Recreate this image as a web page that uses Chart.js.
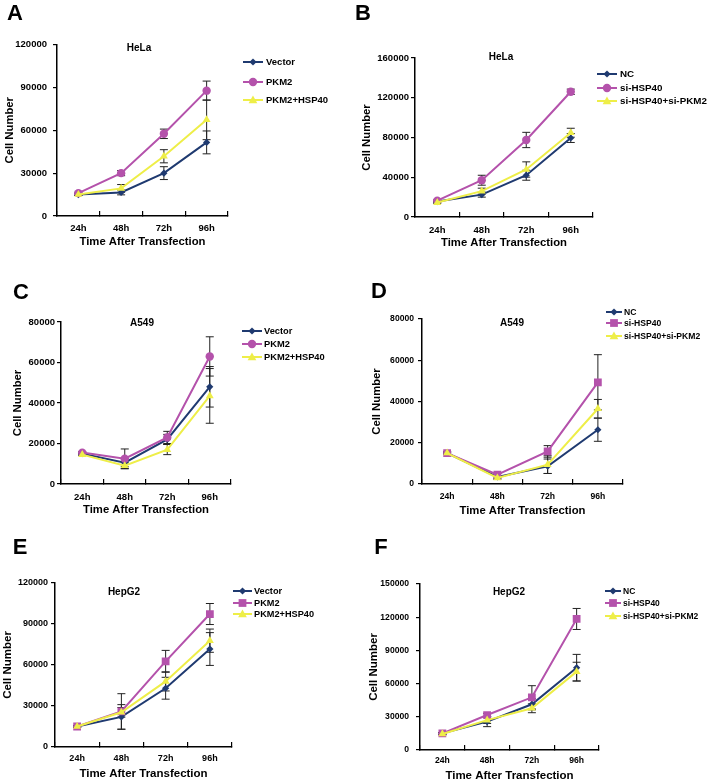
<!DOCTYPE html>
<html>
<head>
<meta charset="utf-8">
<script src="https://cdn.jsdelivr.net/npm/chart.js@4.4.1/dist/chart.umd.min.js"></script>
<style>
  body { margin: 0; background: #fff; width: 708px; height: 782px; position: relative; overflow: hidden; }
  canvas { position: absolute; }
</style>
</head>
<body>
<canvas id="cA" width="354" height="260" style="left:0;top:0"></canvas>
<canvas id="cB" width="354" height="260" style="left:354px;top:0"></canvas>
<canvas id="cC" width="354" height="260" style="left:0;top:260px"></canvas>
<canvas id="cD" width="354" height="260" style="left:354px;top:260px"></canvas>
<canvas id="cE" width="354" height="262" style="left:0;top:520px"></canvas>
<canvas id="cF" width="354" height="262" style="left:354px;top:520px"></canvas>
<script>
const timeLabels = ["24h", "48h", "72h", "96h"];
const overNames = ["Vector", "PKM2", "PKM2+HSP40"];
const knockNames = ["NC", "si-HSP40", "si-HSP40+si-PKM2"];

// A - HeLa, overexpression
const aVector = [15000, 16500, 30000, 51500];
const aVectorErr = [600, 1700, 4500, 8000];
const aPkm2 = [16000, 30000, 57500, 87700];
const aPkm2Err = [600, 1800, 3300, 6700];
const aCombo = [15000, 19300, 41800, 67300];
const aComboErr = [600, 2700, 4600, 13900];

// B - HeLa, knockdown
const bNC = [15500, 22500, 42000, 79500];
const bNCErr = [800, 2500, 5000, 4500];
const bSiHsp = [16500, 37000, 77500, 126000];
const bSiHspErr = [800, 5000, 7700, 2700];
const bCombo = [14500, 26000, 47800, 84800];
const bComboErr = [800, 3000, 7700, 4500];

// C - A549, overexpression
const cVector = [15000, 10500, 22000, 48000];
const cVectorErr = [500, 2000, 2500, 10000];
const cPkm2 = [15500, 12500, 23000, 63000];
const cPkm2Err = [500, 4800, 3000, 9700];
const cCombo = [14500, 9000, 17000, 43500];
const cComboErr = [500, 1500, 2500, 13500];

// D - A549, knockdown
const dNC = [15000, 3400, 8600, 26300];
const dNCErr = [500, 600, 3500, 5600];
const dSiHsp = [15000, 4500, 15800, 49300];
const dSiHspErr = [500, 600, 2800, 13400];
const dCombo = [15000, 2900, 9400, 36500];
const dComboErr = [500, 600, 4300, 4500];

// E - HepG2, overexpression
const eVector = [15000, 22000, 43000, 71700];
const eVectorErr = [600, 9000, 8000, 12000];
const ePkm2 = [15000, 26000, 62700, 97300];
const ePkm2Err = [600, 13000, 8000, 7700];
const eCombo = [15000, 25400, 48000, 77800];
const eComboErr = [600, 3500, 7000, 8500];

// F - HepG2, knockdown
const fNC = [15000, 25600, 41300, 74400];
const fNCErr = [800, 4500, 5000, 12000];
const fSiHsp = [15000, 31600, 47600, 118400];
const fSiHspErr = [800, 1500, 10500, 9500];
const fCombo = [14500, 27000, 37700, 70800];
const fComboErr = [800, 3000, 4000, 8500];

const NAVY = "#1f3a70";
const PINK = "#b452ab";
const YELLOW = "#eeee48";
const FONT = "'Liberation Sans', Arial, sans-serif";

const panels = [
  { id: "cA", letter: "A", cell: "HeLa", names: overNames, mid: "circle",
    series: [aVector, aPkm2, aCombo], errs: [aVectorErr, aPkm2Err, aComboErr],
    max: 120000, step: 30000,
    box: { l: 57, t: 44.5, r: 228, b: 216 }, letterAt: [15, 14], titleAt: [139, 48],
    xLabY: 228, xTitleY: 242, yTitleX: 10, yGap: 10, tickSize: 9.5, titleSize: 11.3,
    legend: { x0: 243, x1: 263, tx: 266, rows: [62, 82, 100], size: 9.5 } },
  { id: "cB", letter: "B", cell: "HeLa", names: knockNames, mid: "circle",
    series: [bNC, bSiHsp, bCombo], errs: [bNCErr, bSiHspErr, bComboErr],
    max: 160000, step: 40000,
    box: { l: 61, t: 58, r: 239, b: 217 }, letterAt: [9, 14], titleAt: [147, 57],
    xLabY: 230, xTitleY: 243, yTitleX: 12.5, yGap: 6, tickSize: 9.5, titleSize: 11.3,
    legend: { x0: 243, x1: 263, tx: 266, rows: [74, 88, 101], size: 9.8 } },
  { id: "cC", letter: "C", cell: "A549", names: overNames, mid: "circle",
    series: [cVector, cPkm2, cCombo], errs: [cVectorErr, cPkm2Err, cComboErr],
    max: 80000, step: 20000,
    box: { l: 61, t: 62, r: 231, b: 224 }, letterAt: [21, 33], titleAt: [142, 63],
    xLabY: 237, xTitleY: 250, yTitleX: 18, yGap: 6, tickSize: 9.5, titleSize: 11.3,
    legend: { x0: 242, x1: 262, tx: 264, rows: [71, 84, 97], size: 9.3 } },
  { id: "cD", letter: "D", cell: "A549", names: knockNames, mid: "rect",
    series: [dNC, dSiHsp, dCombo], errs: [dNCErr, dSiHspErr, dComboErr],
    max: 80000, step: 20000,
    box: { l: 68, t: 59, r: 269, b: 224 }, letterAt: [25, 32], titleAt: [158, 63],
    xLabY: 237, xTitleY: 251, yTitleX: 23, yGap: 8, tickSize: 8.6, titleSize: 11.3,
    legend: { x0: 252, x1: 268, tx: 270, rows: [52, 63, 76], size: 8.6 } },
  { id: "cE", letter: "E", cell: "HepG2", names: overNames, mid: "rect",
    series: [eVector, ePkm2, eCombo], errs: [eVectorErr, ePkm2Err, eComboErr],
    max: 120000, step: 30000,
    box: { l: 55, t: 63, r: 232, b: 227 }, letterAt: [20, 28], titleAt: [124, 72],
    xLabY: 239, xTitleY: 254, yTitleX: 8, yGap: 7, tickSize: 9, titleSize: 11.5,
    legend: { x0: 233, x1: 252, tx: 254, rows: [71, 83, 94], size: 9.2 } },
  { id: "cF", letter: "F", cell: "HepG2", names: knockNames, mid: "rect",
    series: [fNC, fSiHsp, fCombo], errs: [fNCErr, fSiHspErr, fComboErr],
    max: 150000, step: 30000,
    box: { l: 66, t: 64, r: 245, b: 230 }, letterAt: [27, 28], titleAt: [155, 72],
    xLabY: 241, xTitleY: 256, yTitleX: 20, yGap: 11, tickSize: 8.6, titleSize: 11.5,
    legend: { x0: 251, x1: 267, tx: 269, rows: [71, 83, 96], size: 8.5 } }
];

function marker(ctx, style, x, y, r, color) {
  ctx.save();
  ctx.fillStyle = color;
  ctx.beginPath();
  if (style === "circle") {
    ctx.arc(x, y, r, 0, Math.PI * 2);
  } else if (style === "rect") {
    const s = r * Math.SQRT1_2;
    ctx.rect(x - s, y - s, 2 * s, 2 * s);
  } else if (style === "rectRot") {
    ctx.moveTo(x - r, y); ctx.lineTo(x, y - r); ctx.lineTo(x + r, y); ctx.lineTo(x, y + r);
  } else {
    ctx.moveTo(x, y - r); ctx.lineTo(x + r * 0.95, y + r * 0.7); ctx.lineTo(x - r * 0.95, y + r * 0.7);
  }
  ctx.closePath();
  ctx.fill();
  ctx.restore();
}

const extras = {
  id: "extras",
  beforeDatasetsDraw(chart) {
    const p = chart.options.plugins.extras.panel;
    const ctx = chart.ctx;
    const ys = chart.scales.y;
    ctx.save();
    ctx.strokeStyle = "#222";
    ctx.lineWidth = 1;
    chart.data.datasets.forEach((ds, i) => {
      const meta = chart.getDatasetMeta(i);
      ds.data.forEach((v, j) => {
        const e = p.errs[i][j];
        const x = meta.data[j].x;
        const y1 = ys.getPixelForValue(v + e);
        const y2 = ys.getPixelForValue(v - e);
        ctx.beginPath();
        ctx.moveTo(x, y1); ctx.lineTo(x, y2);
        ctx.moveTo(x - 4, y1); ctx.lineTo(x + 4, y1);
        ctx.moveTo(x - 4, y2); ctx.lineTo(x + 4, y2);
        ctx.stroke();
      });
    });
    ctx.restore();
  },
  afterDraw(chart) {
    const p = chart.options.plugins.extras.panel;
    const ctx = chart.ctx;
    ctx.save();
    ctx.fillStyle = "#000";
    ctx.textAlign = "center";
    ctx.textBaseline = "middle";
    ctx.font = "bold 22px " + FONT;
    ctx.fillText(p.letter, p.letterAt[0], p.letterAt[1]);
    ctx.font = "bold 10px " + FONT;
    ctx.fillText(p.cell, p.titleAt[0], p.titleAt[1]);
    // legend
    const lg = p.legend;
    ctx.textAlign = "left";
    ctx.font = "bold " + lg.size + "px " + FONT;
    chart.data.datasets.forEach((ds, i) => {
      const y = lg.rows[i];
      ctx.strokeStyle = ds.borderColor;
      ctx.lineWidth = 2;
      ctx.beginPath();
      ctx.moveTo(lg.x0, y); ctx.lineTo(lg.x1, y);
      ctx.stroke();
      marker(ctx, ds.pointStyle, (lg.x0 + lg.x1) / 2, y, ds.pointRadius, ds.borderColor);
      ctx.fillStyle = "#000";
      ctx.fillText(ds.label, lg.tx, y + 0.5);
    });
    ctx.restore();
  }
};

panels.forEach(p => {
  const canvas = document.getElementById(p.id);
  const W = canvas.width, H = canvas.height;
  const lh = p.titleSize * 1.2;
  const tlh = p.tickSize * 1.2;
  const colors = [NAVY, PINK, YELLOW];
  const styles = ["rectRot", p.mid, "triangle"];
  const radii = [3.6, p.mid === "rect" ? 5.5 : 4.2, 4.6];
  new Chart(canvas, {
    type: "line",
    data: {
      labels: timeLabels,
      datasets: p.series.map((s, i) => ({
        label: p.names[i],
        data: s,
        borderColor: colors[i],
        backgroundColor: colors[i],
        pointBackgroundColor: colors[i],
        pointBorderColor: colors[i],
        pointBorderWidth: 0,
        pointStyle: styles[i],
        pointRadius: radii[i],
        borderWidth: 2,
        tension: 0,
        order: 3 - i
      }))
    },
    options: {
      responsive: false,
      animation: false,
      devicePixelRatio: 1,
      layout: { padding: { left: 0, top: p.box.t, right: W - p.box.r, bottom: 0 } },
      plugins: {
        legend: { display: false },
        title: { display: false },
        tooltip: { enabled: false },
        extras: { panel: p }
      },
      scales: {
        x: {
          type: "category",
          offset: true,
          grid: { offset: true, drawOnChartArea: false, drawTicks: true, tickLength: -5, color: "#000", lineWidth: 1.2 },
          border: { color: "#000", width: 1.5 },
          ticks: {
            color: "#000", maxRotation: 0, autoSkip: false,
            font: { family: FONT, size: p.tickSize, weight: "bold" },
            padding: p.xLabY - p.box.b + 5 - tlh / 2
          },
          title: {
            display: true, text: "Time After Transfection", color: "#000",
            font: { family: FONT, size: p.titleSize, weight: "bold" },
            padding: { top: 0, bottom: H - p.xTitleY - lh / 2 }
          },
          afterFit(s) { s.height = H - p.box.b; }
        },
        y: {
          min: 0, max: p.max,
          grid: { drawOnChartArea: false, drawTicks: true, tickLength: 4, color: "#000", lineWidth: 1.2 },
          border: { color: "#000", width: 1.5 },
          ticks: {
            stepSize: p.step, color: "#000",
            font: { family: FONT, size: p.tickSize, weight: "bold" },
            padding: p.yGap - 4,
            callback: v => String(v)
          },
          title: {
            display: true, text: "Cell Number", color: "#000",
            font: { family: FONT, size: p.titleSize, weight: "bold" },
            padding: { top: p.yTitleX - lh / 2, bottom: 0 }
          },
          afterFit(s) { s.width = p.box.l; }
        }
      }
    },
    plugins: [extras]
  });
});
</script>
</body>
</html>
